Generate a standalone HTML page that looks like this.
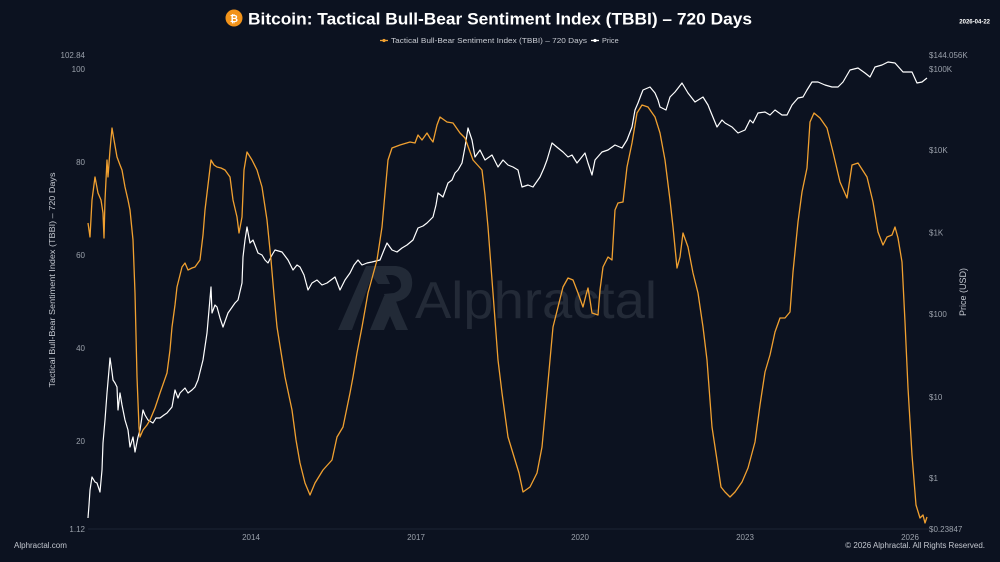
<!DOCTYPE html>
<html><head><meta charset="utf-8"><style>
html,body{margin:0;padding:0;background:#0c1220;}
svg{display:block;}
text{font-family:"Liberation Sans",Arial,sans-serif;}
</style></head><body>
<svg width="1000" height="562" viewBox="0 0 1000 562" xmlns="http://www.w3.org/2000/svg">
<rect width="1000" height="562" fill="#0c1220"/>
<!-- watermark -->
<g fill="#222a37">
<path d="M338 330 L366 266 L382 266 L390 284 L378 284 L372 276 L352 330 Z"/>
<path d="M370 330 L384 296 L394 296 L400 312 L408 330 L396 330 L390 316 L384 330 Z"/>
<path d="M380 266 L396 266 Q414 268 412 286 Q410 300 394 302 L386 302 L384 294 L394 293 Q402 290 401 284 Q400 276 392 275 L384 275 Z"/>
</g>
<text x="415" y="318" font-size="52" fill="#232a37" textLength="242" lengthAdjust="spacingAndGlyphs">Alphractal</text>
<!-- grid -->
<line x1="88" y1="529" x2="930" y2="529" stroke="#1c2433" stroke-width="1"/>
<!-- title -->
<circle cx="234" cy="18" r="8.5" fill="#f2931a"/>
<text x="234" y="22" font-size="10" font-weight="bold" fill="#fff" text-anchor="middle">₿</text>
<text x="248" y="24.5" font-size="17" font-weight="bold" fill="#ffffff" textLength="504" lengthAdjust="spacingAndGlyphs">Bitcoin: Tactical Bull-Bear Sentiment Index (TBBI) – 720 Days</text>
<text x="990" y="23.5" font-size="6" font-weight="bold" fill="#ffffff" text-anchor="end">2026-04-22</text>
<!-- legend -->
<line x1="380" y1="40.5" x2="388" y2="40.5" stroke="#f0a030" stroke-width="1.3"/>
<circle cx="384" cy="40.5" r="1.6" fill="#f0a030"/>
<text x="391" y="43" font-size="7.3" fill="#c9ccd3" textLength="196" lengthAdjust="spacingAndGlyphs">Tactical Bull-Bear Sentiment Index (TBBI) – 720 Days</text>
<line x1="591" y1="40.5" x2="599" y2="40.5" stroke="#ffffff" stroke-width="1.3"/>
<circle cx="595" cy="40.5" r="1.6" fill="#ffffff"/>
<text x="602" y="43" font-size="7.3" fill="#c9ccd3">Price</text>
<!-- left axis -->
<g font-size="8" fill="#9aa0aa" text-anchor="end">
<text x="85" y="58">102.84</text>
<text x="85" y="72">100</text>
<text x="85" y="165">80</text>
<text x="85" y="258">60</text>
<text x="85" y="351">40</text>
<text x="85" y="444">20</text>
<text x="85" y="532">1.12</text>
</g>
<text transform="translate(55,280) rotate(-90)" font-size="8.6" fill="#c3c7cf" text-anchor="middle" textLength="215" lengthAdjust="spacingAndGlyphs">Tactical Bull-Bear Sentiment Index (TBBI) – 720 Days</text>
<!-- right axis -->
<g font-size="8" fill="#9aa0aa">
<text x="929" y="58">$144.056K</text>
<text x="929" y="72">$100K</text>
<text x="929" y="153">$10K</text>
<text x="929" y="235.5">$1K</text>
<text x="929" y="317">$100</text>
<text x="929" y="400">$10</text>
<text x="929" y="481">$1</text>
<text x="929" y="532">$0.23847</text>
</g>
<text transform="translate(966,292) rotate(-90)" font-size="9" fill="#c3c7cf" text-anchor="middle">Price (USD)</text>
<!-- x axis -->
<g font-size="8" fill="#9aa0aa" text-anchor="middle">
<text x="251" y="540">2014</text>
<text x="416" y="540">2017</text>
<text x="580" y="540">2020</text>
<text x="745" y="540">2023</text>
<text x="910" y="540">2026</text>
</g>
<text x="14" y="548" font-size="8" fill="#c3c7cf">Alphractal.com</text>
<text x="985" y="548" font-size="8" fill="#c3c7cf" text-anchor="end">© 2026 Alphractal. All Rights Reserved.</text>
<!-- price line -->
<polyline fill="none" stroke="#ffffff" stroke-width="1.2" stroke-linejoin="round" points="88,518 89,505 90,490 92,477 95,482 97,483 100,492 102,470 103,443 105,420 107,393 109,370 110,358 112,372 113,380 115,383 117,387 118,410 120,393 122,405 125,420 128,430 130,447 133,437 135,452 138,437 140,430 143,410 145,415 148,420 153,423 156,418 160,418 164,415 167,413 172,407 175,390 178,398 180,393 185,388 188,393 192,390 195,387 198,380 203,360 207,333 209,310 211,287 212,313 215,305 217,307 220,318 223,327 228,313 235,303 238,300 242,283 243,257 245,240 247,227 250,243 253,240 258,253 262,255 265,260 268,263 272,255 275,250 282,252 288,260 293,270 297,265 300,267 304,275 308,290 312,283 317,280 322,285 327,283 335,277 340,290 345,280 350,273 354,265 358,260 362,265 367,263 372,262 380,260 384,250 387,243 392,250 397,252 402,248 407,245 413,240 418,228 423,226 427,223 433,217 436,205 438,193 443,197 448,183 452,180 455,173 458,170 462,163 465,147 468,128 472,140 475,157 480,150 485,160 492,155 498,167 503,160 508,165 513,167 518,170 522,187 528,185 533,187 540,177 544,168 547,160 552,143 558,148 563,152 568,157 572,155 577,163 581,158 585,153 588,163 592,175 595,160 602,152 608,150 615,145 622,148 627,140 632,127 635,110 638,103 641,95 643,90 650,87 655,93 658,100 660,107 666,110 670,97 675,92 682,83 688,93 695,102 703,97 708,105 710,110 717,127 722,120 725,123 732,127 738,133 745,130 750,120 753,123 758,113 765,112 770,115 775,110 782,115 787,115 792,105 798,98 803,97 807,90 812,82 818,82 825,85 832,87 838,87 843,82 850,70 858,68 865,73 870,77 875,67 882,65 888,62 895,63 903,72 912,72 917,83 922,82 927,78"/>
<!-- TBBI line -->
<polyline fill="none" stroke="#f0a030" stroke-width="1.3" stroke-linejoin="round" points="88,223 90,237 92,200 95,177 98,193 101,200 103,213 104,238 105,200 107,160 108,177 110,150 112,128 114,140 117,157 120,165 122,170 125,187 128,200 130,210 133,240 135,293 137,377 139,427 140,437 143,430 147,425 150,420 155,408 160,393 167,373 170,350 172,327 175,305 177,287 180,275 182,267 185,263 188,270 192,268 195,267 200,260 203,235 205,210 208,185 211,160 214,165 217,167 221,168 225,170 230,177 233,200 237,217 239,233 242,217 244,170 247,152 252,160 257,170 262,187 267,220 271,260 274,295 277,327 281,352 285,377 292,410 296,440 300,463 305,483 310,495 315,483 323,470 332,460 337,437 343,427 350,393 353,377 357,353 362,327 368,293 377,260 382,227 385,193 388,160 392,148 400,145 410,142 415,143 418,135 422,140 427,133 430,138 433,142 437,125 440,117 447,122 453,123 460,133 465,138 473,160 482,170 485,195 488,227 493,293 498,360 502,393 508,437 515,460 519,473 523,492 530,487 537,473 542,447 547,393 550,360 553,327 558,307 563,287 568,278 573,280 578,293 583,307 586,295 588,288 590,300 592,313 598,315 600,290 603,267 608,257 612,260 615,210 618,203 623,202 627,167 632,143 637,113 642,105 648,107 655,117 660,133 665,160 670,200 673,227 677,268 680,257 683,233 688,247 693,273 698,293 703,327 707,360 712,427 717,460 721,487 725,492 730,497 735,492 742,482 748,468 755,442 760,405 765,372 770,355 775,332 780,318 785,318 790,312 793,272 798,222 802,192 807,168 810,122 814,113 820,118 827,128 833,152 840,182 847,198 852,165 858,163 867,177 873,202 878,232 883,245 887,237 892,235 895,227 898,238 902,262 905,322 908,388 912,455 916,505 920,518 923,515 925,523 927,517"/>
</svg>
</body></html>
